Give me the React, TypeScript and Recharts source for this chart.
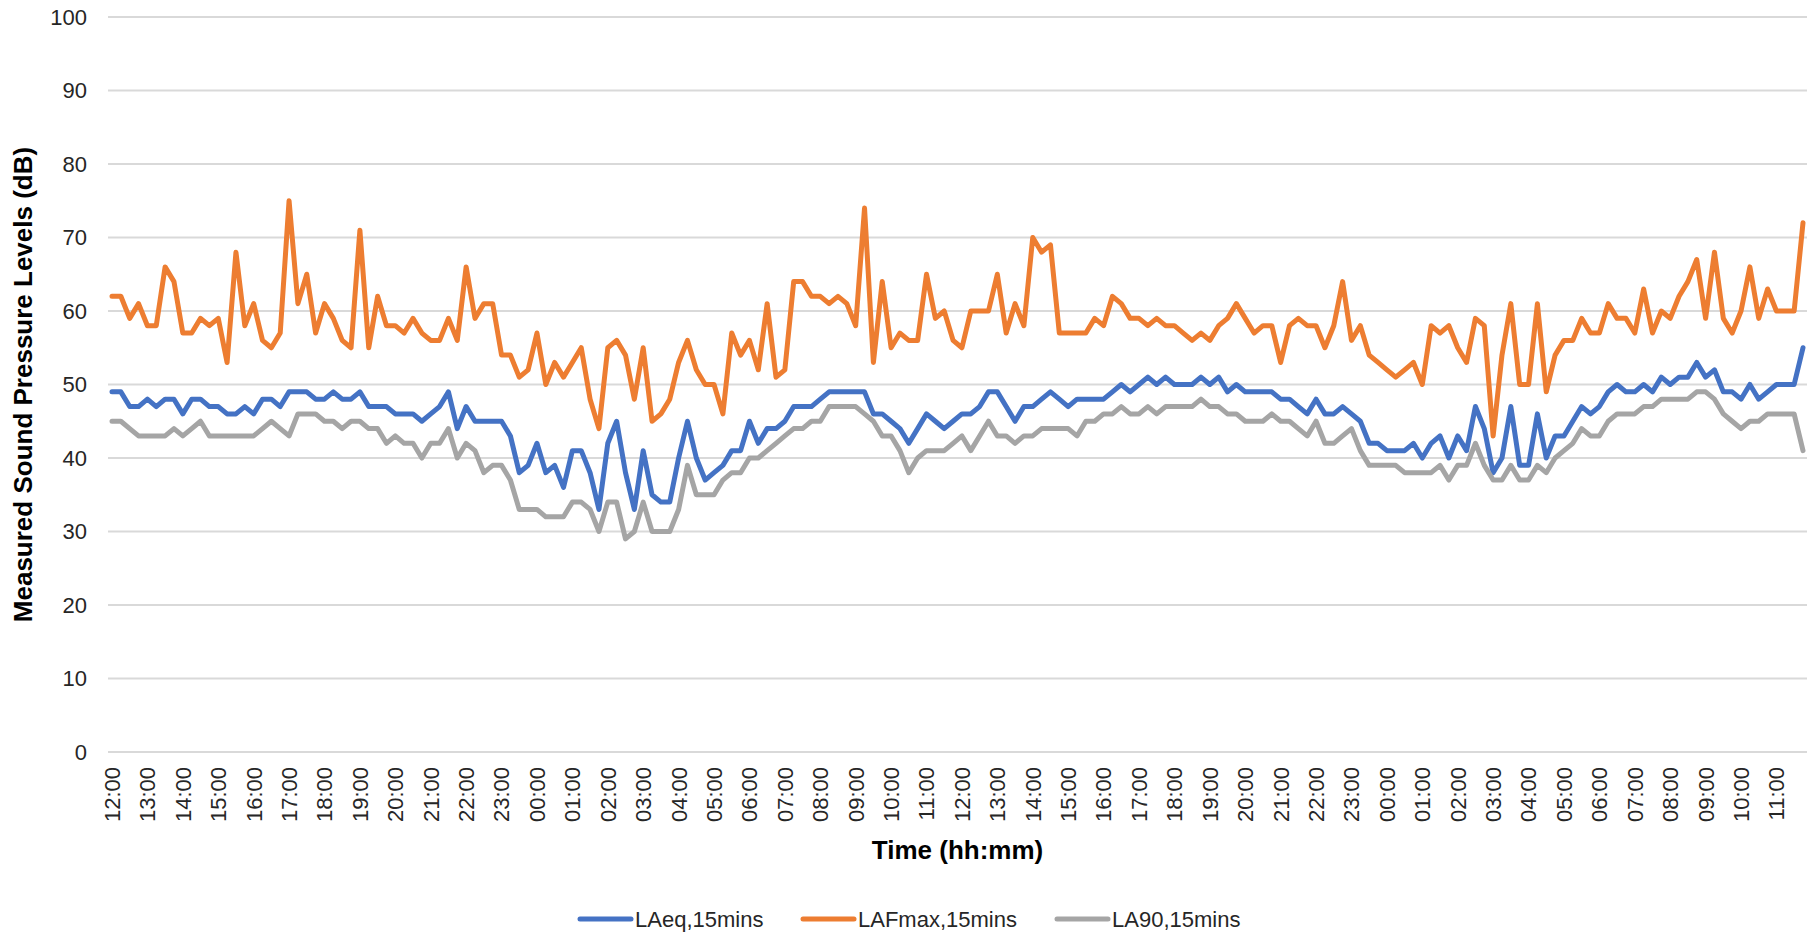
import { LineChart, Line, XAxis, YAxis, CartesianGrid, Legend, Label } from 'recharts';

// hourly tick labels over the 48 h survey, 15 min intervals in between
const hourLabels = [
  '12:00', '13:00', '14:00', '15:00', '16:00', '17:00', '18:00', '19:00', '20:00', '21:00', '22:00', '23:00',
  '00:00', '01:00', '02:00', '03:00', '04:00', '05:00', '06:00', '07:00', '08:00', '09:00', '10:00', '11:00',
  '12:00', '13:00', '14:00', '15:00', '16:00', '17:00', '18:00', '19:00', '20:00', '21:00', '22:00', '23:00',
  '00:00', '01:00', '02:00', '03:00', '04:00', '05:00', '06:00', '07:00', '08:00', '09:00', '10:00', '11:00',
];
const quarters = ['00', '15', '30', '45'];

const laeq = [
  49, 49, 47, 47, 48, 47, 48, 48, 46, 48, 48, 47, 47, 46, 46, 47, 46, 48, 48, 47, 49, 49, 49, 48, 48, 49, 48, 48, 49, 47, 47,
  47, 46, 46, 46, 45, 46, 47, 49, 44, 47, 45, 45, 45, 45, 43, 38, 39, 42, 38, 39, 36, 41, 41, 38, 33, 42, 45, 38, 33, 41, 35, 34,
  34, 40, 45, 40, 37, 38, 39, 41, 41, 45, 42, 44, 44, 45, 47, 47, 47, 48, 49, 49, 49, 49, 49, 46, 46, 45, 44, 42, 44, 46, 45,
  44, 45, 46, 46, 47, 49, 49, 47, 45, 47, 47, 48, 49, 48, 47, 48, 48, 48, 48, 49, 50, 49, 50, 51, 50, 51, 50, 50, 50, 51, 50, 51,
  49, 50, 49, 49, 49, 49, 48, 48, 47, 46, 48, 46, 46, 47, 46, 45, 42, 42, 41, 41, 41, 42, 40, 42, 43, 40, 43, 41, 47, 44, 38, 40,
  47, 39, 39, 46, 40, 43, 43, 45, 47, 46, 47, 49, 50, 49, 49, 50, 49, 51, 50, 51, 51, 53, 51, 52, 49, 49, 48, 50, 48, 49, 50, 50, 50, 55,
];

const lafmax = [
  62, 62, 59, 61, 58, 58, 66, 64, 57, 57, 59, 58, 59, 53, 68, 58, 61, 56, 55, 57, 75, 61, 65, 57, 61, 59, 56, 55, 71, 55, 62,
  58, 58, 57, 59, 57, 56, 56, 59, 56, 66, 59, 61, 61, 54, 54, 51, 52, 57, 50, 53, 51, 53, 55, 48, 44, 55, 56, 54, 48, 55, 45, 46,
  48, 53, 56, 52, 50, 50, 46, 57, 54, 56, 52, 61, 51, 52, 64, 64, 62, 62, 61, 62, 61, 58, 74, 53, 64, 55, 57, 56, 56, 65, 59,
  60, 56, 55, 60, 60, 60, 65, 57, 61, 58, 70, 68, 69, 57, 57, 57, 57, 59, 58, 62, 61, 59, 59, 58, 59, 58, 58, 57, 56, 57, 56, 58,
  59, 61, 59, 57, 58, 58, 53, 58, 59, 58, 58, 55, 58, 64, 56, 58, 54, 53, 52, 51, 52, 53, 50, 58, 57, 58, 55, 53, 59, 58, 43, 54,
  61, 50, 50, 61, 49, 54, 56, 56, 59, 57, 57, 61, 59, 59, 57, 63, 57, 60, 59, 62, 64, 67, 59, 68, 59, 57, 60, 66, 59, 63, 60, 60, 60, 72,
];

const la90 = [
  45, 45, 44, 43, 43, 43, 43, 44, 43, 44, 45, 43, 43, 43, 43, 43, 43, 44, 45, 44, 43, 46, 46, 46, 45, 45, 44, 45, 45, 44, 44,
  42, 43, 42, 42, 40, 42, 42, 44, 40, 42, 41, 38, 39, 39, 37, 33, 33, 33, 32, 32, 32, 34, 34, 33, 30, 34, 34, 29, 30, 34, 30, 30,
  30, 33, 39, 35, 35, 35, 37, 38, 38, 40, 40, 41, 42, 43, 44, 44, 45, 45, 47, 47, 47, 47, 46, 45, 43, 43, 41, 38, 40, 41, 41,
  41, 42, 43, 41, 43, 45, 43, 43, 42, 43, 43, 44, 44, 44, 44, 43, 45, 45, 46, 46, 47, 46, 46, 47, 46, 47, 47, 47, 47, 48, 47, 47,
  46, 46, 45, 45, 45, 46, 45, 45, 44, 43, 45, 42, 42, 43, 44, 41, 39, 39, 39, 39, 38, 38, 38, 38, 39, 37, 39, 39, 42, 39, 37, 37,
  39, 37, 37, 39, 38, 40, 41, 42, 44, 43, 43, 45, 46, 46, 46, 47, 47, 48, 48, 48, 48, 49, 49, 48, 46, 45, 44, 45, 45, 46, 46, 46, 46, 41,
];

const seriesNames = ['LAeq,15mins', 'LAFmax,15mins', 'LA90,15mins'];
const yTicks = [0, 10, 20, 30, 40, 50, 60, 70, 80, 90, 100];

const FONT = '"Liberation Sans", Arial, sans-serif';

const chartData = laeq.map((v, i) => ({
  time: hourLabels[Math.floor(i / 4)].slice(0, 3) + quarters[i % 4],
  laeq: v,
  lafmax: lafmax[i],
  la90: la90[i],
}));

function TimeTick({ x, y, payload }: any) {
  const ty = y + 15;
  return (
    <text
      x={x}
      y={ty}
      dy="0.36em"
      transform={`rotate(-90 ${x} ${ty})`}
      textAnchor="end"
      fill="#262626"
      fontSize={22}
      fontFamily={FONT}
    >
      {payload.value}
    </text>
  );
}

function YTitle({ viewBox }: any) {
  const cx = 23;
  const cy = viewBox.y + viewBox.height / 2;
  return (
    <text x={cx} y={cy} dy="0.36em" transform={`rotate(-90 ${cx} ${cy})`} textAnchor="middle"
      fontSize={26} fontWeight="bold" fontFamily={FONT} fill="#000">
      Measured Sound Pressure Levels (dB)
    </text>
  );
}

function XTitle({ viewBox }: any) {
  return (
    <text x={viewBox.x + viewBox.width / 2} y={850} dy="0.36em" textAnchor="middle"
      fontSize={26} fontWeight="bold" fontFamily={FONT} fill="#000">
      Time (hh:mm)
    </text>
  );
}

// legend laid out by hand to sit where Excel put it
const legendX = [578, 801, 1055];

function LegendRow({ payload }: any) {
  const items = [...(payload || [])].sort(
    (a: any, b: any) => seriesNames.indexOf(a.value) - seriesNames.indexOf(b.value),
  );
  return (
    <svg width={1807} height={32} style={{ display: 'block' }}>
      {items.map((p: any, i: number) => (
        <g key={p.value}>
          <line x1={legendX[i] + 2} x2={legendX[i] + 53} y1={16} y2={16} stroke={p.color} strokeWidth={5} strokeLinecap="round" />
          <text x={legendX[i] + 57} y={16} dy="0.36em" fontSize={22} fontFamily={FONT} fill="#262626">
            {p.value}
          </text>
        </g>
      ))}
    </svg>
  );
}

export default function App() {
  return (
    <div style={{ position: 'absolute', left: 0, top: 0, background: '#fff' }}>
      <LineChart width={1807} height={935} data={chartData} margin={{ top: 17, right: 0, bottom: 0, left: 0 }}>
        <CartesianGrid vertical={false} stroke="#d9d9d9" strokeWidth={2} />
        <XAxis
          dataKey="time"
          interval={3}
          tick={<TimeTick />}
          tickLine={false}
          axisLine={false}
          tickSize={0}
          tickMargin={0}
          height={151}
          padding={{ left: 4, right: 4 }}
        >
          <Label content={<XTitle />} />
        </XAxis>
        <YAxis
          domain={[0, 100]}
          ticks={yTicks}
          width={108}
          tickLine={false}
          axisLine={false}
          tickSize={0}
          tickMargin={21}
          tick={{ fill: '#262626', fontSize: 22, fontFamily: FONT }}
        >
          <Label content={<YTitle />} />
        </YAxis>
        <Legend verticalAlign="bottom" height={32} content={<LegendRow />} />
        <Line type="linear" dataKey="laeq" name={seriesNames[0]} stroke="#4472C4" strokeWidth={5} dot={false}
          activeDot={false} strokeLinejoin="round" strokeLinecap="round" isAnimationActive={false} />
        <Line type="linear" dataKey="lafmax" name={seriesNames[1]} stroke="#ED7D31" strokeWidth={5} dot={false}
          activeDot={false} strokeLinejoin="round" strokeLinecap="round" isAnimationActive={false} />
        <Line type="linear" dataKey="la90" name={seriesNames[2]} stroke="#A5A5A5" strokeWidth={5} dot={false}
          activeDot={false} strokeLinejoin="round" strokeLinecap="round" isAnimationActive={false} />
      </LineChart>
    </div>
  );
}
